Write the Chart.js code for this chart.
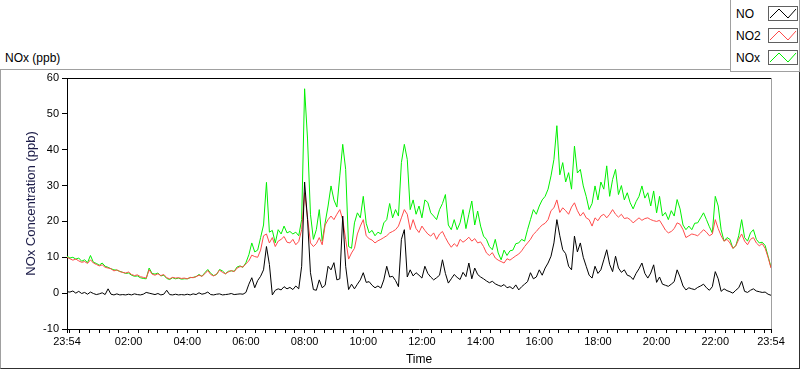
<!DOCTYPE html>
<html>
<head>
<meta charset="utf-8">
<script src="https://cdn.jsdelivr.net/npm/chart.js@4.4.1/dist/chart.umd.min.js"></script>
<style>
  body { margin: 0; background: #fff; font-family: "Liberation Sans", Arial, sans-serif; }
  #wrap { position: relative; width: 800px; height: 369px; overflow: hidden; }
  #panel { position: absolute; left: 0; top: 69px; width: 798px; height: 298px;
           border: 1px solid #a0a0a0; border-right-color: #303030; border-bottom-color: #303030; }
  #chart { position: absolute; left: 0; top: 0; }
  #caption { position: absolute; left: 5px; top: 51px; font-size: 12px; color: #000; }
  #legend { position: absolute; left: 730px; top: 0; width: 68px; height: 71px;
            border: 1px solid #a0a0a0; border-top: none; background: #fff; }
  .row { position: absolute; left: 5px; height: 16px; font-size: 12px; line-height: 16px; color: #000; }
  .row svg { position: absolute; left: 32px; top: 0; border: 1px solid #606060; background: #fff; }
</style>
</head>
<body>
<div id="wrap">
  <div id="panel"></div>
  <div id="caption">NOx (ppb)</div>
  <canvas id="chart" width="800" height="369"></canvas>
  <div id="legend"></div>
</div>
<script>
// readings every 6 minutes, starting 23:54
const stepMinutes = 6;
const no = [
  0.4, 0.3, 0.6, 0.0, 0.5, -0.1, 0.2, -0.3, 0.3, -0.1,
  -0.4, -0.2, 0.1, -0.4, 1.2, -0.3, -0.5, -0.2, -0.5, -0.4,
  -0.5, -0.3, -0.5, -0.2, -0.4, -0.5, -0.3, 0.2, 0.0, -0.2,
  -0.4, -0.1, -0.5, -0.3, 0.8, -0.4, -0.5, -0.3, -0.5, -0.4,
  -0.5, -0.3, -0.5, -0.2, -0.4, 0.1, -0.3, -0.1, 0.3, -0.4,
  -0.5, -0.3, -0.2, -0.5, -0.4, -0.3, -0.1, -0.4, -0.3, -0.2,
  -0.3, 0.2, 2.5, 4.3, 1.5, 3.5, 4.7, 6.5, 13.0, 8.0,
  -0.5, 0.8, 1.2, 0.9, 1.8, 1.2, 1.6, 1.0, 2.0, 1.2,
  7.5, 31.0, 20.5, 5.7, 1.0, 0.8, 3.7, 1.5, 2.2, 7.5,
  6.5, 8.5, 3.7, 4.0, 21.5, 7.5, 1.0, 2.5, 1.2, 2.5,
  3.7, 5.7, 3.0, 3.2, 2.2, 1.5, 2.0, 1.4, 3.7, 7.5,
  4.5, 4.7, 3.5, 1.8, 15.0, 17.7, 4.5, 6.5, 4.8, 5.7,
  5.0, 4.2, 7.5, 5.5, 4.5, 3.7, 4.3, 5.0, 9.3, 5.5,
  2.8, 4.0, 5.2, 4.4, 3.8, 5.8, 4.6, 8.4, 4.0, 7.0,
  5.2, 4.5, 4.0, 3.4, 2.9, 3.3, 2.6, 2.2, 1.9, 2.4,
  1.5, 1.8, 1.2, 2.3, 0.9, 1.8, 2.5, 3.2, 5.7, 4.0,
  4.5, 6.5, 5.0, 7.0, 8.4, 10.3, 14.0, 20.5, 16.0, 12.1,
  11.0, 7.5, 6.5, 15.9, 11.5, 14.0, 10.0, 7.5, 5.0, 4.2,
  7.5, 5.5, 6.5, 9.3, 12.1, 8.0, 6.0, 10.3, 7.0, 5.8,
  6.5, 5.0, 4.7, 3.8, 5.5, 6.8, 8.4, 5.5, 4.2, 5.6,
  7.9, 3.0, 4.5, 2.5, 2.2, 1.9, 2.5, 3.2, 6.5, 4.5,
  2.0, 0.9, 1.5, 1.2, 1.0, 1.6, 2.0, 2.5, 1.5, 0.8,
  1.8, 6.0, 4.0, 0.5, 1.2, 0.7, 0.4, 0.0, 0.8, 1.5,
  3.3, 0.5, 0.2, 0.8, 1.2, 0.6, 0.4, 0.2, 0.3, -0.3,
  -0.6
];
const no2 = [
  10.0, 9.6, 9.2, 9.5, 9.0, 8.6, 8.8, 8.3, 9.3, 8.4,
  8.0, 7.6, 7.9, 7.2, 7.0, 6.8, 6.2, 6.5, 6.0, 5.8,
  5.6, 5.9, 5.2, 4.9, 5.1, 4.6, 4.4, 4.2, 6.5, 5.3,
  5.0, 5.4, 4.9, 5.2, 4.3, 4.0, 4.4, 4.2, 4.3, 4.1,
  4.2, 4.0, 4.4, 4.3, 4.6, 5.0, 4.7, 5.4, 6.3, 5.2,
  4.8, 5.3, 6.4, 5.8, 5.4, 5.9, 6.3, 6.0, 7.0, 7.4,
  7.3, 8.2, 9.0, 10.6, 10.2, 10.0, 12.0, 16.0, 16.5, 14.0,
  15.5, 13.0, 14.5, 15.0, 15.8, 14.2, 14.0, 15.0, 13.5, 14.4,
  17.7, 28.0, 21.0, 14.0, 13.0, 13.8, 15.5, 13.5, 19.0, 20.5,
  21.5, 20.5, 22.0, 23.3, 20.5, 15.0, 9.5, 11.2, 12.5, 16.5,
  18.7, 20.5, 16.0, 15.2, 14.8, 14.0, 14.6, 15.0, 15.5, 16.0,
  16.8, 17.2, 17.7, 18.7, 21.0, 23.3, 22.0, 17.7, 20.5, 18.0,
  16.9, 18.7, 17.5, 16.5, 15.9, 16.8, 15.0, 16.5, 17.2, 15.5,
  14.0, 12.8, 13.8, 13.0, 15.0, 14.2, 14.8, 15.6, 14.5, 15.2,
  14.0, 14.3, 13.0, 11.2, 10.5, 11.3, 9.8, 9.2, 8.8, 8.4,
  9.6, 9.2, 9.8, 10.4, 10.9, 11.8, 13.0, 14.0, 15.0, 16.4,
  17.2, 18.2, 19.0, 19.5, 20.5, 23.0, 23.8, 26.0, 22.5, 23.8,
  23.0, 22.0, 24.0, 25.2, 23.0, 21.5, 22.5, 21.0, 20.5, 18.7,
  21.0, 20.2, 21.5, 22.0, 21.0, 22.0, 23.3, 22.0, 21.2, 22.0,
  20.8, 21.0, 20.5, 19.6, 20.3, 21.0, 20.3, 20.8, 21.0, 20.5,
  20.2, 20.0, 20.3, 19.0, 17.6, 16.8, 17.2, 18.0, 19.6, 19.2,
  17.7, 15.5, 16.0, 16.5, 16.3, 16.0, 16.8, 17.7, 17.0, 16.0,
  16.5, 20.5, 18.0, 16.0, 14.5, 15.0, 14.0, 12.5, 13.2, 15.0,
  16.5, 14.5, 13.5, 15.0, 15.5, 14.0, 13.2, 13.8, 12.5, 10.0,
  7.0
];
const nox = [
  10.3, 9.8, 10.0, 9.5, 9.8, 8.9, 9.3, 8.5, 10.5, 8.6,
  8.3, 7.8, 8.4, 7.5, 7.2, 6.8, 6.5, 6.4, 6.1, 5.8,
  5.5, 5.6, 5.0, 4.7, 4.8, 4.3, 4.1, 4.0, 7.0, 5.5,
  5.3, 5.6, 4.8, 5.0, 4.1, 3.8, 4.3, 4.0, 4.2, 3.9,
  4.0, 4.0, 4.3, 4.4, 4.6, 5.2, 4.7, 5.7, 6.6, 5.5,
  4.9, 5.2, 6.6, 6.2, 5.4, 6.1, 6.2, 6.1, 7.3, 7.6,
  7.2, 8.5, 10.7, 14.0, 11.5, 12.0, 15.5, 19.0, 30.9, 17.0,
  17.5, 14.0, 17.7, 16.5, 18.7, 16.8, 17.2, 16.5, 17.0, 16.0,
  20.5, 57.0, 43.0, 22.0, 15.0, 17.7, 23.3, 14.5, 19.6, 24.3,
  29.9, 26.0, 24.0, 32.7, 41.5, 34.5, 13.0, 12.5, 19.6, 22.4,
  21.0, 27.0, 19.5, 16.8, 17.5, 16.0, 17.0, 16.5, 19.6, 20.5,
  25.0, 21.0, 23.3, 21.5, 36.4, 41.5, 37.3, 23.3, 26.0, 22.0,
  24.3, 21.0, 26.0, 25.3, 22.4, 21.5, 20.5, 23.3, 25.0, 27.5,
  19.0, 17.7, 20.5, 17.7, 19.6, 23.3, 18.0, 22.0, 25.7, 19.0,
  22.9, 18.7, 15.9, 15.0, 13.0, 12.1, 15.0, 11.2, 9.3, 12.0,
  10.5, 11.8, 12.0, 13.8, 14.0, 15.0, 14.5, 17.7, 20.5, 23.3,
  22.0, 24.3, 26.0, 27.0, 29.0, 32.7, 37.3, 46.7, 33.0, 36.4,
  31.0, 33.6, 29.0, 41.0, 33.5, 34.5, 29.9, 27.0, 23.3, 25.0,
  29.9, 26.0, 31.0, 29.0, 35.5, 27.0, 31.7, 34.5, 27.5, 30.0,
  26.0, 28.0, 25.2, 23.5, 25.5, 27.0, 29.9, 26.5, 28.0, 24.3,
  28.5, 22.4, 27.0, 21.5, 22.5, 20.5, 23.0, 21.5, 26.1, 23.5,
  19.0, 17.7, 18.7, 17.7, 19.5, 19.6, 21.0, 22.4, 20.5, 18.5,
  16.8, 27.0, 24.3, 17.7, 14.5, 15.5, 15.0, 12.5, 13.2, 16.0,
  20.5, 15.5, 14.5, 16.8, 17.7, 15.0, 14.0, 14.2, 13.3, 10.3,
  7.2
];

const startLabel = '23:54';
const startClock = 23 * 60 + 54;
const totalMinutes = 1440;
const minorStep = 20;   // small ticks every 20 min from 00:00
const majorStep = 120;  // labels every 2 h

const seriesNames = ['NO', 'NO2', 'NOx'];
const seriesColors = ['#000000', '#ff4a4a', '#00f000'];
const seriesData = [no, no2, nox];

const minutes = no.map((_, i) => i * stepMinutes);

function clock(m) {
  const t = (startClock + m) % 1440;
  const h = Math.floor(t / 60), mm = t % 60;
  return String(h).padStart(2, '0') + ':' + String(mm).padStart(2, '0');
}

// legend boxes
const legend = document.getElementById('legend');
seriesNames.forEach((name, i) => {
  const row = document.createElement('div');
  row.className = 'row';
  row.style.top = (6 + i * 22) + 'px';
  row.innerHTML = name +
    '<svg width="28" height="13"><polyline points="1,11 10,2 19,11 27,2" fill="none" stroke="' +
    seriesColors[i] + '" stroke-width="1"/></svg>';
  legend.appendChild(row);
});

const frame = {
  id: 'frame',
  afterDatasetsDraw(chart) {
    const { ctx, chartArea: a } = chart;
    ctx.save();
    ctx.lineWidth = 1;
    ctx.strokeStyle = '#000';
    ctx.beginPath();
    ctx.moveTo(a.left, a.top + 0.5);
    ctx.lineTo(a.right, a.top + 0.5);
    ctx.stroke();
    ctx.strokeStyle = '#a0a0a0';
    ctx.beginPath();
    ctx.moveTo(a.right + 0.5, a.top);
    ctx.lineTo(a.right + 0.5, a.bottom);
    ctx.stroke();
    ctx.restore();
  }
};

const tickFont = { family: 'Liberation Sans', size: 11 };

new Chart(document.getElementById('chart'), {
  type: 'line',
  data: {
    datasets: seriesNames.map((name, i) => ({
      label: name,
      data: seriesData[i].map((v, j) => ({ x: minutes[j], y: v })),
      borderColor: seriesColors[i],
      borderWidth: 1,
      pointRadius: 0,
      tension: 0,
      fill: false
    }))
  },
  options: {
    responsive: false,
    animation: false,
    devicePixelRatio: 1,
    layout: { padding: { top: 78, right: 29, left: 0, bottom: 0 } },
    plugins: { legend: { display: false }, tooltip: { enabled: false } },
    scales: {
      x: {
        type: 'linear',
        min: 0,
        max: totalMinutes,
        afterBuildTicks(scale) {
          const ticks = [{ value: 0 }];
          for (let m = 6; m < totalMinutes; m += minorStep) ticks.push({ value: m });
          ticks.push({ value: totalMinutes });
          scale.ticks = ticks;
        },
        afterFit(scale) { scale.height = 40; },
        ticks: {
          autoSkip: false,
          maxRotation: 0,
          color: '#000',
          font: tickFont,
          padding: 2,
          callback(v) {
            if (v === 0 || v === totalMinutes) return startLabel;
            if ((v - 6) % majorStep === 0 && v > 6) return clock(v);
            return '';
          }
        },
        grid: { drawOnChartArea: false, drawTicks: true, tickLength: 4, color: '#000' },
        border: { display: true, color: '#000' },
        title: {
          display: true,
          text: 'Time',
          color: '#000',
          font: { family: 'Liberation Sans', size: 12 },
          padding: { top: 0, bottom: 2 }
        }
      },
      y: {
        min: -10,
        max: 60,
        afterFit(scale) { scale.width = 67; },
        ticks: { stepSize: 10, color: '#000', font: tickFont, padding: 3 },
        grid: { drawOnChartArea: false, drawTicks: true, tickLength: 5, color: '#000' },
        border: { display: true, color: '#000' },
        title: {
          display: true,
          text: 'NOx Concentration (ppb)',
          color: '#1c1c48',
          font: { family: 'Liberation Sans', size: 13 },
          padding: { top: 24, bottom: 0 }
        }
      }
    }
  },
  plugins: [frame]
});
</script>
</body>
</html>
